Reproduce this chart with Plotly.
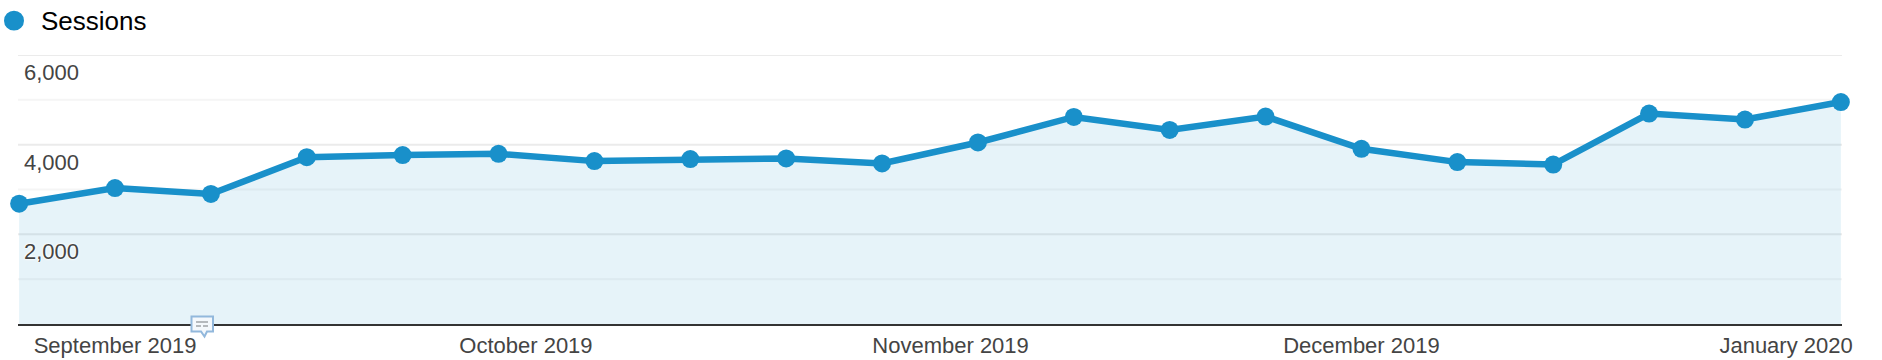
import plotly.graph_objects as go

# --- data ---
week_starts = ["2019-08-25", "2019-09-01", "2019-09-08", "2019-09-15", "2019-09-22",
               "2019-09-29", "2019-10-06", "2019-10-13", "2019-10-20", "2019-10-27",
               "2019-11-03", "2019-11-10", "2019-11-17", "2019-11-24", "2019-12-01",
               "2019-12-08", "2019-12-15", "2019-12-22", "2019-12-29", "2020-01-05"]
sessions = [2684, 3033, 2900, 3722, 3767, 3796, 3633, 3678, 3693, 3582,
            4049, 4618, 4329, 4627, 3907, 3611, 3556, 4693, 4560, 4951]
month_ticks = ["2019-09-01", "2019-10-01", "2019-11-01", "2019-12-01", "2020-01-01"]
month_labels = ["September 2019", "October 2019", "November 2019", "December 2019", "January 2020"]
major_y = [2000, 4000, 6000]
major_labels = ["2,000", "4,000", "6,000"]
minor_y = [1000, 3000, 5000]
series_name = "Sessions"

# --- style ---
W, H = 1882, 360
L, R, T, B = 18, 1842, 54.5, 324.5
BLUE = "#1990ca"
FONT = "Liberation Sans, Arial, sans-serif"


def px(x):
    return (x - L) / (R - L)


def py(y):
    return (B - y) / (B - T)


fig = go.Figure()

# area + line
fig.add_trace(go.Scatter(
    x=week_starts, y=sessions, mode="lines", showlegend=False,
    line=dict(color=BLUE, width=6.5), fill="tozeroy",
    fillcolor="rgba(5,141,199,0.1)", hoverinfo="skip",
))
# points
fig.add_trace(go.Scatter(
    x=week_starts, y=sessions, mode="markers", name=series_name, showlegend=False,
    marker=dict(color=BLUE, size=18, line=dict(width=0)), cliponaxis=False,
))

shapes = []
# gridlines, drawn beneath the area
for v in major_y:
    shapes.append(dict(type="line", xref="paper", x0=0, x1=1, yref="y", y0=v, y1=v,
                       layer="below", line=dict(color="#ebebeb", width=2)))
for v in minor_y:
    shapes.append(dict(type="line", xref="paper", x0=0, x1=1, yref="y", y0=v, y1=v,
                       layer="below", line=dict(color="#f5f5f5", width=2)))
# legend dot
shapes.append(dict(type="circle", xref="paper", yref="paper",
                   x0=px(4), x1=px(24), y0=py(30), y1=py(10),
                   fillcolor=BLUE, line=dict(width=0)))
# annotation balloon on the axis
shapes.append(dict(
    type="path", xref="paper", yref="paper", layer="above",
    path=("M {a} {b} L {c} {b} L {c} {d} L {e} {d} L {f} {g} L {h} {d} L {a} {d} Z").format(
        a=px(191.5), b=py(317), c=px(213), d=py(332), e=px(207), f=px(204.5),
        g=py(337), h=px(201)),
    fillcolor="#f4f8fc", line=dict(color="#92b8dc", width=2)))
for x0, x1, yy in [(196, 208, 322.5), (196, 201, 326.5), (203, 208, 326.5)]:
    shapes.append(dict(type="line", xref="paper", yref="paper",
                       x0=px(x0), x1=px(x1), y0=py(yy), y1=py(yy),
                       line=dict(color="#a0a4a8", width=1.5)))

annotations = [dict(
    text=series_name, xref="paper", yref="paper", x=px(39), y=py(20.5),
    xanchor="left", yanchor="middle", showarrow=False,
    font=dict(family=FONT, size=26, color="#000000"),
)]
for v, label in zip(major_y, major_labels):
    annotations.append(dict(
        text=label, xref="paper", yref="y", x=px(22), y=v, yshift=-17.5,
        xanchor="left", yanchor="middle", showarrow=False,
        font=dict(family=FONT, size=22, color="#444444",
                  shadow="0 0 2px #fff, 0 0 2px #fff, 0 0 3px #fff"),
    ))

fig.update_layout(
    width=W, height=H,
    margin=dict(l=L, r=W - R, t=T, b=H - B, pad=0, autoexpand=False),
    paper_bgcolor="#ffffff", plot_bgcolor="#ffffff",
    showlegend=False, hovermode="closest",
    shapes=shapes, annotations=annotations,
    font=dict(family=FONT),
    xaxis=dict(
        type="date", automargin=False,
        range=["2019-08-24 22:00", "2020-01-05 02:00"],
        tickvals=month_ticks, ticktext=month_labels, tickmode="array",
        showgrid=False, zeroline=False, ticks="", ticklabelstandoff=1,
        showline=True, linecolor="#333333", linewidth=2,
        tickfont=dict(family=FONT, size=22, color="#444444"),
    ),
    yaxis=dict(
        automargin=False,
        range=[0, 6000], tickvals=major_y, showticklabels=False, ticks="",
        showgrid=False, zeroline=False, showline=False,
    ),
)

fig.write_html("out.html", config={"displayModeBar": False},
               post_script="document.body.style.margin='0';document.body.style.overflow='hidden';")
